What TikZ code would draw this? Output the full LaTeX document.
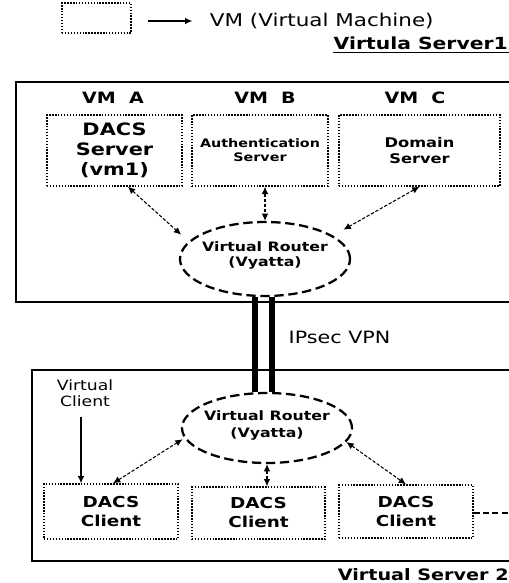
\documentclass[tikz,border=0pt]{standalone}
\usepackage{fontspec}
\setmainfont{DejaVu Sans}[FakeStretch=1.22]
\usetikzlibrary{arrows.meta,shapes.geometric}

\begin{document}
\begin{tikzpicture}[x=0.75pt,y=-0.75pt,
  vmbox/.style={draw, line width=1pt, dash pattern=on 1.1pt off 1.1pt,
    inner sep=0pt, align=center},
  router/.style={draw, ellipse, line width=1.7pt, dash pattern=on 7pt off 3.5pt,
    inner sep=0pt, align=center, font=\fontsize{9.7}{11.25}\selectfont\bfseries},
  link/.style={{Latex[length=5.5pt,width=5pt]}-{Latex[length=5.5pt,width=5pt]},
    line width=0.8pt, dash pattern=on 2.5pt off 1.3pt},
  solidarrow/.style={-{Latex[length=5.5pt,width=5pt]}, line width=0.9pt},
  vpn/.style={line width=4.5pt},
  frame/.style={line width=1.1pt},
  vmlabel/.style={font=\fontsize{11.7}{14}\selectfont\bfseries},
  title/.style={inner sep=0pt, anchor=base east}
]
\useasboundingbox (0,0) rectangle (509,583);

% legend
\node[vmbox, minimum width={69*0.75pt}, minimum height={30*0.75pt}] (lg) at (96.5,18) {};
\node[anchor=west, inner sep=2pt, font=\fontsize{13.2}{15}\selectfont] (lgt) at (207,21) {VM (Virtual Machine)};
\draw[solidarrow, shorten <=12pt, shorten >=11pt] (lg.east |- lgt.west) -- (lgt.west);

% server 1 title
\node[title, font=\fontsize{12.5}{15}\selectfont\bfseries] (s1) at (508,49) {Virtula Server1};
\draw[line width=0.9pt] ([yshift=-2.6pt]s1.base west) -- ([yshift=-2.6pt,xshift=1pt]s1.base east);

% server 1 frame (open to the right)
\draw[frame] (509,82) -- (16,82) -- (16,302) -- (509,302);
\draw[line width=2pt] (16,82) -- (16,302);

% VM labels
\node[vmlabel] (la) at (113,98) {VM\ \ A};
\node[vmlabel] (lb) at (265,98) {VM\ \ B};
\node[vmlabel] (lc) at (415,98) {VM\ \ C};

% virtual machines
\node[vmbox, minimum width={135*0.75pt}, minimum height={71*0.75pt},
  font=\fontsize{12.8}{15}\selectfont\bfseries] (a) at (114.5,150.5) {DACS\\Server\\(vm1)};
\node[vmbox, minimum width={136*0.75pt}, minimum height={71*0.75pt},
  font=\fontsize{8.8}{10.5}\selectfont\bfseries] (b) at (260,150.5) {Authentication\\Server};
\node[vmbox, minimum width={161*0.75pt}, minimum height={71*0.75pt},
  font=\fontsize{10}{12}\selectfont\bfseries] (c) at (419.5,150.5) {Domain\\Server};

% router 1 (text sits a little above the centre)
\node[router, minimum width={170*0.75pt}, minimum height={74*0.75pt}] (r1) at (265,259) {};
\node[inner sep=0pt, align=center, font=\fontsize{9.7}{11.25}\selectfont\bfseries] (r1t) at (265,255.5) {Virtual Router\\(Vyatta)};

\draw[link, shorten >=7.5pt] ([xshift=10pt]a.south) -- (r1.167);
\draw[link] (b.south -| r1.north) -- (r1.north);
\draw[link, shorten >=9pt] (c.south) -- (r1.19);

% router 2
\node[router, minimum width={170*0.75pt}, minimum height={70*0.75pt}] (r2) at (267,428) {};
\node[inner sep=0pt, align=center, font=\fontsize{9.7}{12.75}\selectfont\bfseries] (r2t) at (267,425.5) {Virtual Router\\(Vyatta)};

% IPsec tunnel
\draw[vpn] ([xshift=-7.5pt]r1.south) -- ([xshift=-7.5pt]r1.south |- r2.north);
\draw[vpn] ([xshift=5.25pt]r1.south) -- ([xshift=5.25pt]r1.south |- r2.north);
\node[font=\fontsize{12.7}{15}\selectfont] (ipsec) at (339.5,337) {IPsec VPN};

% server 2 frame (open to the right)
\draw[frame] (509,370) -- (32,370) -- (32,561) -- (509,561);
\draw[line width=1.8pt] (32,370) -- (32,561);

% clients
\node[vmbox, minimum width={134*0.75pt}, minimum height={55*0.75pt},
  font=\fontsize{11.3}{14.25}\selectfont\bfseries] (c1) at (111,511.5) {DACS\\Client};
\node[vmbox, minimum width={133*0.75pt}, minimum height={52*0.75pt},
  font=\fontsize{11.3}{14.25}\selectfont\bfseries] (c2) at (258.5,513) {DACS\\Client};
\node[vmbox, minimum width={134*0.75pt}, minimum height={53*0.75pt},
  font=\fontsize{11.3}{14.25}\selectfont\bfseries] (c3) at (406,511.5) {DACS\\Client};

\draw[link, shorten >=1.5pt] ([xshift=1.5pt]c1.north) -- (r2.187);
\draw[link] (r2.south) -- (r2.south |- c2.north);
\draw[link] (r2.350) -- (c3.north);

\coordinate (more) at (509,513);
\draw[line width=2pt, dash pattern=on 4.5pt off 2.5pt] (c3.east |- more) -- (more);

% virtual client
\node[align=center, font=\fontsize{10.6}{12}\selectfont] (vc) at (85,393) {Virtual\\Client};
\draw[solidarrow] ([xshift=-3pt,yshift=-4pt]vc.south) -- ([xshift=-3pt]vc.south |- c1.north);

% server 2 title
\node[title, font=\fontsize{11.8}{15}\selectfont\bfseries] (s2) at (509,580) {Virtual Server 2};
\draw[line width=0.9pt] ([yshift=-2.4pt]s2.base west) -- ([yshift=-2.4pt]s2.base east);
\end{tikzpicture}
\end{document}
